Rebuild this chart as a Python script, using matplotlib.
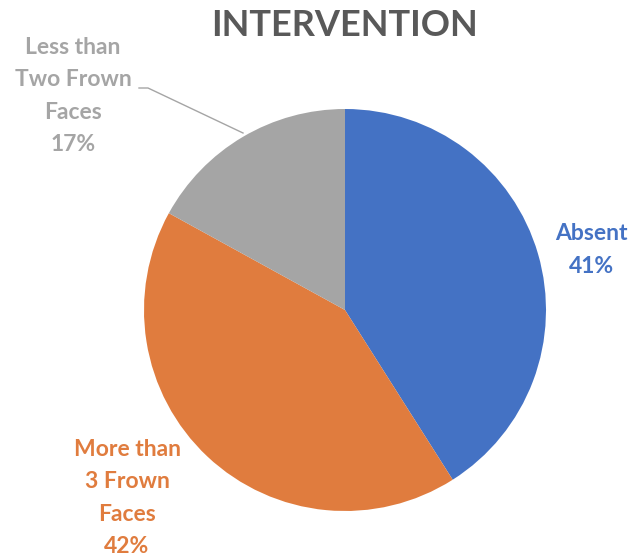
import matplotlib
matplotlib.use("Agg")
import matplotlib.pyplot as plt

# data
categories = ["Absent", "More than\n3 Frown\nFaces", "Less than\nTwo Frown\nFaces"]
shares = [41, 42, 17]
colors = ["#4472C4", "#E07C3E", "#A5A5A5"]

plt.rcParams['font.family'] = ['Lato', 'DejaVu Sans']

W, H = 635, 556
fig = plt.figure(figsize=(W / 100, H / 100), dpi=100)

# pie centre (345, 310) px, radius ~201 px
cx, cy, r = 345, 310, 201
ax = fig.add_axes([(cx - r) / W, (H - cy - r) / H, 2 * r / W, 2 * r / H])
ax.pie(shares, colors=colors, startangle=90, counterclock=False,
       radius=1, wedgeprops=dict(linewidth=0))
ax.set_xlim(-1, 1)
ax.set_ylim(-1, 1)
ax.set_aspect('equal')
ax.axis('off')

fig.text(344 / W, 1 - 25 / H, "INTERVENTION", ha='center', va='center',
         fontsize=26, fontweight='bold', color='#595959')

# data labels (pixel positions of label centres)
label_pos = [(591, 250), (127, 498), (73, 96)]
for cat, val, col, (px, py) in zip(categories, shares, colors, label_pos):
    fig.text(px / W, 1 - py / H, f"{cat}\n{val}%", ha='center', va='center',
             fontsize=16.5, fontweight='bold', color=col, linespacing=1.67)

# leader line for the small slice
fig.add_artist(plt.Line2D([139 / W, 148 / W, 243 / W],
                          [1 - 88 / H, 1 - 88 / H, 1 - 133 / H],
                          color='#A5A5A5', linewidth=1))

fig.savefig("out.png", dpi=100)
